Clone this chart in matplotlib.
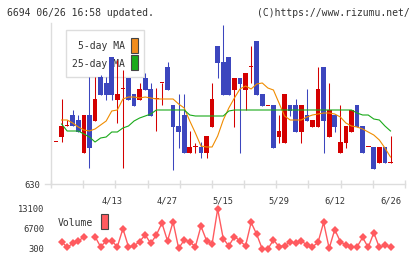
import numpy as np
import matplotlib
matplotlib.use('Agg')
import matplotlib.pyplot as plt
from matplotlib.patches import Rectangle

plt.rcParams['font.family'] = 'DejaVu Sans Mono'

# daily prices (61 trading days, 4/1 .. 6/26)
opens = [714, 724, 746, 768, 758, 692, 768, 756, 844, 832, 884, 798, 820, 842, 810, 798,
         842, 820, 800, 832, 864, 788, 746, 768, 692, 704, 704, 692, 744, 906, 874, 884,
         818, 842, 818, 864, 916, 810, 786, 788, 724, 712, 788, 788, 734, 768, 744, 744,
         864, 724, 768, 692, 712, 734, 788, 746, 704, 704, 672, 704, 672]
highs = [714, 800, 758, 778, 768, 768, 844, 844, 848, 844, 884, 878, 858, 842, 810, 832,
         852, 832, 822, 832, 874, 788, 810, 810, 736, 712, 714, 726, 832, 906, 948, 884,
         842, 842, 852, 906, 916, 810, 786, 788, 768, 810, 788, 800, 788, 820, 758, 864,
         864, 832, 768, 788, 746, 778, 788, 746, 704, 704, 704, 704, 726]
lows = [714, 714, 746, 746, 734, 692, 662, 756, 808, 798, 798, 752, 662, 798, 786, 798,
        818, 766, 736, 788, 818, 658, 702, 692, 692, 692, 682, 682, 744, 842, 808, 808,
        744, 692, 778, 832, 808, 786, 786, 702, 712, 712, 766, 734, 712, 756, 744, 744,
        692, 724, 734, 692, 702, 734, 744, 692, 704, 660, 672, 672, 672]
closes = [714, 746, 746, 746, 734, 768, 702, 800, 808, 808, 808, 810, 820, 798, 786, 820,
          818, 766, 800, 832, 818, 744, 734, 692, 704, 704, 692, 726, 800, 872, 808, 808,
          842, 830, 852, 864, 808, 786, 786, 702, 736, 810, 776, 734, 788, 756, 758, 820,
          756, 778, 744, 714, 746, 778, 744, 692, 704, 660, 704, 672, 672]

ma5 = [np.nan, 758, 758, 752, 744, 738, 736, 740, 748, 756, 776, 778, 800, 804, 804, 802,
       804, 802, 800, 800, 800, 800, 790, 782, 756, 732, 706, 704, 704, 726, 758, 782,
       802, 820, 826, 820, 830, 832, 822, 818, 792, 766, 758, 758, 758, 764, 768, 770,
       772, 772, 770, 764, 752, 746, 744, 740, 734, 728, 718, 702, 684]
ma25 = ([np.nan, 750, 736, 736, 736, 730, 724, 714, 722, 724, 734, 734, 742, 746, 756, 762,
         766, 770] + [778] * 6 + [768] + [766] * 6 + [776] + [778] * 22
        + [772, 768, 768, 760, 758, 746, 736])

volume = [np.nan, 2700, 800, 2100, 2900, 4100, np.nan, 4300, 1000, 2900, 2900, 1000, 6800,
          1000, 1300, 2700, 4800, 2100, 4800, 8600, 2900, 9000, 500, 3200, 2600, 1000,
          7600, 3000, 1900, 13100, 3600, 1300, 4300, 2900, 1300, 8800, 5000, 300, 300,
          3200, 1100, 1300, 2600, 2100, 2900, 1600, 1000, 2400, 8800, 500, 6500, 2700,
          1500, 800, 1000, 4000, 800, 5500, 800, 1500, 1000]

date_idx = [10, 20, 30, 40, 50, 60]
date_labels = ['4/13', '4/27', '5/15', '5/29', '6/12', '6/26']

RED = '#d40000'
BLUE = '#3c46be'
GREY = '#dddddd'
TXT = '#333333'

W, H = 420, 259
fig = plt.figure(figsize=(W / 100, H / 100), dpi=100)


def fx(px):
    return px / W


def fy(py):
    return 1 - py / H


x0, x1 = (51 - 56) / 5.575, (405 - 56) / 5.575
x = np.arange(len(opens))

# price panel
ax = fig.add_axes([fx(51), fy(184), fx(405) - fx(51), fy(23) - fy(184)])
ax.set_facecolor('none')
o = np.array(opens)
c = np.array(closes)
cols = [RED if cc >= oo else BLUE for oo, cc in zip(o, c)]
ax.vlines(x, lows, highs, colors=cols, lw=0.75, zorder=3)
ax.bar(x, np.maximum(np.abs(c - o), 2), bottom=np.minimum(o, c), width=0.84,
       color=cols, linewidth=0, zorder=3)
ax.plot(x, ma5, color='#f08c00', lw=0.8, zorder=4)
ax.plot(x, ma25, color='#1aaa1a', lw=0.8, zorder=4)
ax.set_xlim(x0, x1)
ax.set_ylim(630, 952)
for s in ['top', 'right']:
    ax.spines[s].set_visible(False)
for s in ['left', 'bottom']:
    ax.spines[s].set_color(GREY)
    ax.spines[s].set_linewidth(1)
ax.set_xticks(np.linspace(x0, x1, 12))
ax.set_xticklabels([])
ax.tick_params(axis='x', which='major', direction='inout', length=6, width=1, color=GREY)
ax.set_xticks(date_idx, minor=True)
ax.set_xticklabels(date_labels, minor=True, fontsize=6.3, color=TXT)
ax.tick_params(axis='x', which='minor', length=0, pad=9)
ax.set_yticks([630])
ax.set_yticklabels(['630'], fontsize=6.3, color=TXT)
ax.tick_params(axis='y', length=0, pad=8)
# axis line reaches a little left of the price axis
ax.plot([fx(45), fx(51)], [fy(184), fy(184)], transform=fig.transFigure, color=GREY,
        lw=1, clip_on=False)

# legend (drawn underneath the candles)
ax.add_patch(Rectangle((fx(65.5), fy(77)), fx(143.5) - fx(65.5), fy(30) - fy(77),
                       transform=fig.transFigure, facecolor='white', edgecolor=GREY,
                       lw=1, zorder=1, clip_on=False))
ax.text(fx(125), fy(46), '5-day MA', transform=fig.transFigure, ha='right', va='center',
        fontsize=7, color=TXT, zorder=2)
ax.text(fx(125), fy(63.5), '25-day MA', transform=fig.transFigure, ha='right', va='center',
        fontsize=7, color=TXT, zorder=2)
ax.add_patch(Rectangle((fx(131), fy(52.5)), fx(7), fy(0) - fy(15),
                       transform=fig.transFigure, facecolor='#f08c1c', edgecolor='#444444',
                       lw=0.8, zorder=2, clip_on=False))
ax.add_patch(Rectangle((fx(131), fy(69.5)), fx(7), fy(0) - fy(15),
                       transform=fig.transFigure, facecolor='#1aaa1a', edgecolor='#444444',
                       lw=0.8, zorder=2, clip_on=False))

# volume panel
axv = fig.add_axes([fx(51), fy(255), fx(405) - fx(51), fy(203) - fy(255)])
axv.set_facecolor('none')
axv.plot(x, volume, color='#ff5a5f', lw=1, marker='D', markersize=4.3,
         markeredgewidth=0, zorder=3)
axv.set_xlim(x0, x1)
axv.set_ylim(300 - 6 * 320, 300 + 46 * 320)
for s in axv.spines.values():
    s.set_visible(False)
axv.set_xticks([])
axv.set_yticks([300, 6700, 13100])
axv.set_yticklabels(['300', '6700', '13100'], fontsize=6.3, color=TXT)
axv.tick_params(axis='y', length=0, pad=5)
axv.text(fx(58), fy(222.5), 'Volume', transform=fig.transFigure, ha='left', va='center',
         fontsize=7, color=TXT)
axv.add_patch(Rectangle((fx(101), fy(228.5)), fx(7), fy(0) - fy(15),
                        transform=fig.transFigure, facecolor='#ff5a5f', edgecolor='#444444',
                        lw=0.8, zorder=2, clip_on=False))

# header
fig.text(fx(7), fy(13), '6694 06/26 16:58 updated.', ha='left', va='center',
         fontsize=7, color=TXT)
fig.text(fx(410), fy(13), '(C)https://www.rizumu.net/', ha='right', va='center',
         fontsize=7, color=TXT)

fig.savefig('out.png', dpi=100)
